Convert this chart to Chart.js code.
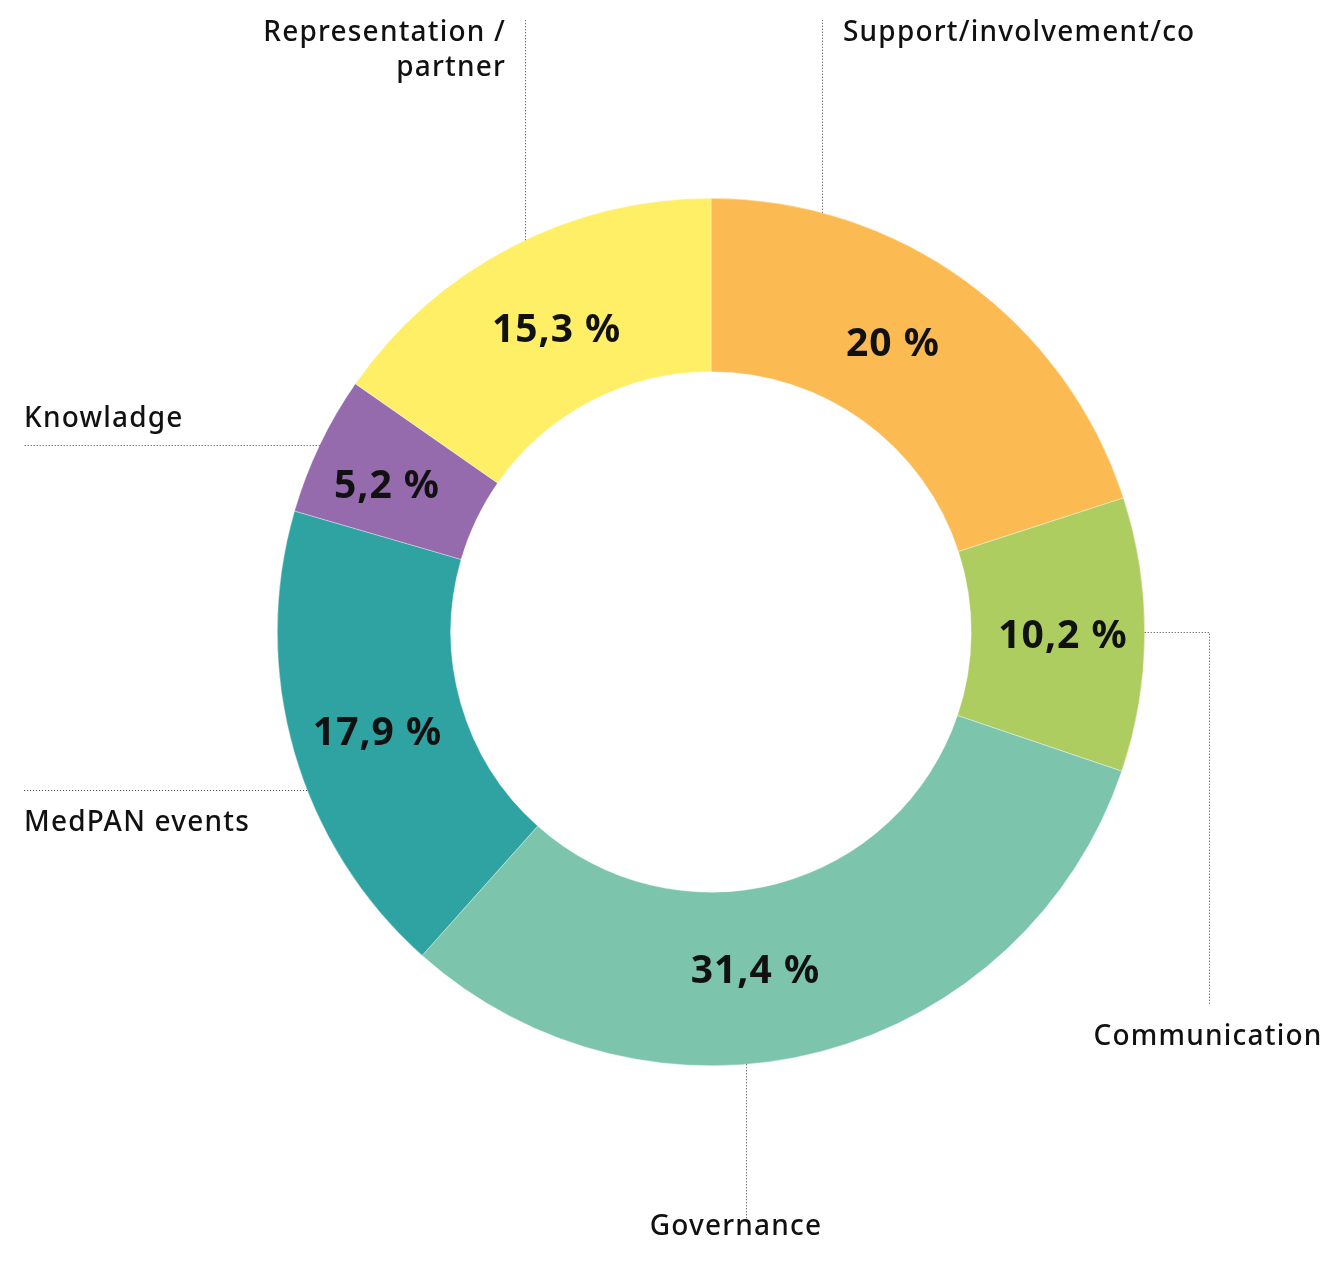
<!DOCTYPE html>
<html>
<head>
<meta charset="utf-8">
<script src="https://cdn.jsdelivr.net/npm/chart.js@4"></script>
<style>
  html, body { margin: 0; padding: 0; background: #fff; }
  #wrap { width: 1329px; height: 1267px; position: relative; }
</style>
</head>
<body>
<div id="wrap"><canvas id="chart"></canvas></div>
<script>
// Data (clockwise from 12 o'clock)
const categories = ['Support/involvement/co', 'Communication', 'Governance', 'MedPAN events', 'Knowladge', 'Representation / partner'];
const shares = [20, 10.2, 31.4, 17.9, 5.2, 15.3];
const valueLabels = ['20 %', '10,2 %', '31,4 %', '17,9 %', '5,2 %', '15,3 %'];
const sliceColors = ['#fbbb52', '#adcd60', '#7cc5ac', '#2ea3a2', '#956bad', '#ffef66'];

const FONT = "'Noto Sans', 'Open Sans', sans-serif";

// small nudges of the in-ring percentages away from the arc centre
const valueNudge = [[-22, -8], [5, 1], [-44, 2], [0, 4], [-11, 3], [6, 5]];

// Outside label layout: text lines, text anchor, alignment and leader path
const outside = [
    { lines: ['Support/involvement/co'], x: 843, y: 33, align: 'left', leader: { type: 'up', x: 822, y: 20 } },
    { lines: ['Communication'], x: 1208, y: 1037, align: 'center', leader: { type: 'elbow', x: 1209, y: 1005, ay: 632 } },
    { lines: ['Governance'], x: 736, y: 1227, align: 'center', leader: { type: 'down', x: 746, y: 1222 } },
    { lines: ['MedPAN events'], x: 24, y: 823, align: 'left', leader: { type: 'left', x: 24, y: 790 } },
    { lines: ['Knowladge'], x: 24, y: 419, align: 'left', leader: { type: 'left', x: 24, y: 445 } },
    { lines: ['Representation /', 'partner'], x: 506, y: 33, align: 'right', leader: { type: 'up', x: 525, y: 20 } }
];

const labelPlugin = {
    id: 'labelPlugin',
    afterDatasetsDraw(chart) {
        const ctx = chart.ctx;
        const meta = chart.getDatasetMeta(0);
        const arc0 = meta.data[0];
        const cx = arc0.x, cy = arc0.y;
        const R = arc0.outerRadius;

        ctx.save();
        // percentages inside the ring
        ctx.fillStyle = '#111';
        ctx.font = 'bold 39px ' + FONT;
        ctx.letterSpacing = '1px';
        ctx.textAlign = 'center';
        ctx.textBaseline = 'middle';
        meta.data.forEach((arc, i) => {
            const p = arc.getCenterPoint();
            ctx.fillText(valueLabels[i], p.x + valueNudge[i][0], p.y + 2 + valueNudge[i][1]);
        });

        // dotted leader lines
        ctx.letterSpacing = '0px';
        ctx.strokeStyle = '#444';
        ctx.lineWidth = 1;
        ctx.setLineDash([1, 2]);
        outside.forEach(o => {
            const l = o.leader;
            ctx.beginPath();
            if (l.type === 'up' || l.type === 'down') {
                const dx = l.x - cx;
                const dy = Math.sqrt(R * R - dx * dx);
                const ay = l.type === 'up' ? cy - dy : cy + dy;
                ctx.moveTo(l.x + 0.5, ay);
                ctx.lineTo(l.x + 0.5, l.y);
            } else if (l.type === 'left') {
                const dy = l.y - cy;
                const dx = Math.sqrt(R * R - dy * dy);
                ctx.moveTo(cx - dx, l.y + 0.5);
                ctx.lineTo(l.x, l.y + 0.5);
            } else if (l.type === 'elbow') {
                const dy = l.ay - cy;
                const dx = Math.sqrt(R * R - dy * dy);
                ctx.moveTo(cx + dx, l.ay + 0.5);
                ctx.lineTo(l.x + 0.5, l.ay + 0.5);
                ctx.lineTo(l.x + 0.5, l.y);
            }
            ctx.stroke();
        });
        ctx.setLineDash([]);

        // category names
        ctx.fillStyle = '#111';
        ctx.font = '500 28px ' + FONT;
        ctx.letterSpacing = '1.2px';
        ctx.textBaseline = 'middle';
        outside.forEach(o => {
            ctx.textAlign = o.align;
            o.lines.forEach((t, k) => ctx.fillText(t, o.x, o.y + k * 35));
        });
        ctx.restore();
    }
};

new Chart(document.getElementById('chart'), {
    type: 'doughnut',
    data: {
        labels: categories,
        datasets: [{
            data: shares,
            backgroundColor: sliceColors,
            borderWidth: 0.6,
            borderColor: 'rgba(255,255,255,0.6)'
        }]
    },
    options: {
        responsive: true,
        maintainAspectRatio: false,
        animation: false,
        cutout: '60%',
        layout: { padding: { top: 198, bottom: 201, left: 277, right: 184 } },
        plugins: {
            legend: { display: false },
            tooltip: { enabled: false }
        }
    },
    plugins: [labelPlugin]
});
</script>
</body>
</html>
